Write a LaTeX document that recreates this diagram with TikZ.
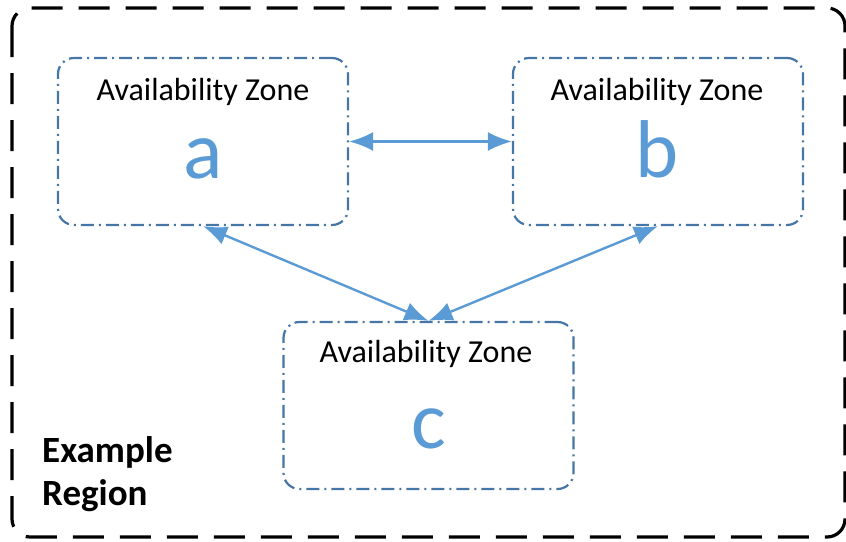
\documentclass[tikz,border=0pt]{standalone}
\usepackage{fontspec}
\setmainfont{Carlito}
\usetikzlibrary{arrows.meta}
\definecolor{zoneframe}{RGB}{70,118,165}
\definecolor{arrowblue}{RGB}{91,155,213}
\tikzset{
  zonebox/.style={draw=zoneframe, line width=2.2pt, rounded corners=16pt,
    dash pattern=on 13pt off 5pt on 2pt off 5pt, minimum width=290pt, minimum height=167pt},
  zonetitle/.style={anchor=base, font=\fontsize{32}{38}\selectfont, text=black, inner sep=0pt},
  zoneletter/.style={anchor=base, font=\fontsize{82}{90}\selectfont, text=arrowblue, inner sep=0pt},
  link/.style={draw=arrowblue, line width=2.4pt, {Latex[length=24pt,width=19pt]}-{Latex[length=24pt,width=19pt]}}
}
\begin{document}
\begin{tikzpicture}[x=1pt,y=-1pt]
\useasboundingbox (0,0) rectangle (846,541);
\draw[line width=3.2pt, rounded corners=18pt, dash pattern=on 31pt off 16pt] (12,8) rectangle (845,537);
\node[zonebox] (a) at (203,141.5) {};
\node[zonebox] (b) at (658,141.5) {};
\node[zonebox] (c) at (428.5,405.5) {};
\node[zonetitle] (at) at (203,100) {Availability Zone};
\node[zonetitle] (bt) at (657,100) {Availability Zone};
\node[zonetitle] (ct) at (426,362) {Availability Zone};
\node[zoneletter] (al) at (203,178) {a};
\node[zoneletter] (bl) at (657,177) {b};
\node[zoneletter] (cl) at (429,448) {c};
\node[anchor=base west, font=\bfseries\fontsize{37}{43}\selectfont, align=left, inner sep=0pt] (reg) at (42,505) {Example\\Region};
\draw[link] (a.east) -- (b.west);
\draw[link] (a.south) -- (c.north);
\draw[link] (b.south) -- (c.north);
\end{tikzpicture}
\end{document}
